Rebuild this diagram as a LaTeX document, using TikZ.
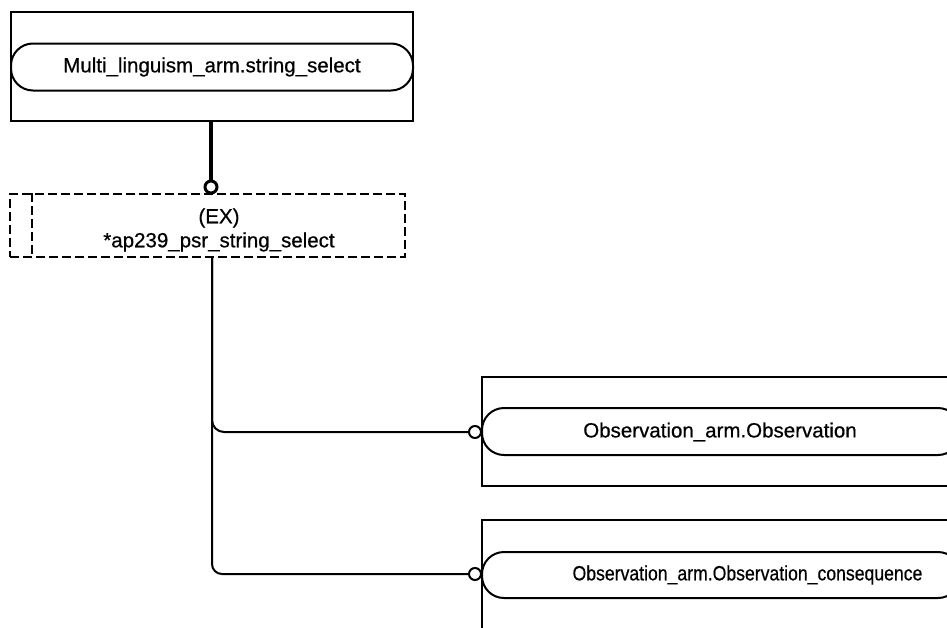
\documentclass[tikz,border=0pt]{standalone}
\usepackage{fontspec}
\usepackage{graphicx}
\setmainfont{Liberation Sans}[FakeBold=0.6]
\begin{document}
\begin{tikzpicture}[x=1pt,y=-1pt,
  box/.style={draw, line width=2pt, inner sep=0pt},
  pill/.style={draw, line width=2pt, rounded corners=22pt, inner sep=0pt},
  dbox/.style={draw, line width=2pt, dash pattern=on 9pt off 4pt, inner sep=0pt},
  lbl/.style={font=\fontsize{20.5}{24}\selectfont, inner sep=0pt, align=center},
  conn/.style={line width=2pt},
  thickconn/.style={line width=4pt},
  dot/.style={circle, draw, line width=2pt, fill=white, minimum size=12pt, inner sep=0pt},
  bigdot/.style={circle, draw, line width=3pt, fill=white, minimum size=12pt, inner sep=0pt}]
\useasboundingbox (0,0) rectangle (947,627);
\clip (0,0) rectangle (947,627);
% top entity
\node[box, minimum width=402pt, minimum height=109pt] (mbox) at (212,66.5) {};
\node[pill, minimum width=402pt, minimum height=47pt, lbl] (ms) at (212,67) {Multi\_linguism\_arm.string\_select};
% dashed select
\node[dbox, minimum width=395pt, minimum height=63pt] (ex) at (207.5,225.5) {};
\draw[line width=2pt, dash pattern=on 9pt off 4pt] (ex.north west) ++(23,0) coordinate (exl) -- (exl |- ex.south);
\node[lbl] (extxt) at (219,230) {(EX)\\*ap239\_psr\_string\_select};
\node[bigdot] (d1) at (211,187) {};
\draw[thickconn] (mbox.south -| d1) -- (d1.north);
% observation entities
\node[box, minimum width=488pt, minimum height=109pt] (obox) at (726,431.5) {};
\node[pill, minimum width=478pt, minimum height=47pt] (ob) at (721,431.5) {};
\node[lbl] (obtxt) at (720,432) {Observation\_arm.Observation};
\node[box, minimum width=488pt, minimum height=130pt] (cbox) at (726,585) {};
\node[pill, minimum width=478pt, minimum height=46pt] (oc) at (721,575) {};
\node[lbl] (octxt) at (747.5,575) {\scalebox{0.86}[1]{Observation\_arm.Observation\_consequence}};
\node[dot] (d2) at (475,432) {};
\node[dot] (d3) at (475,574) {};
% connectors
\draw[conn] (ex.south -| 212,0) -- (212,420) to[out=-90,in=180] (224,432) -- (d2.west);
\draw[conn, rounded corners=10pt] (ex.south -| 212,0) |- (d3.west);
\end{tikzpicture}
\end{document}
